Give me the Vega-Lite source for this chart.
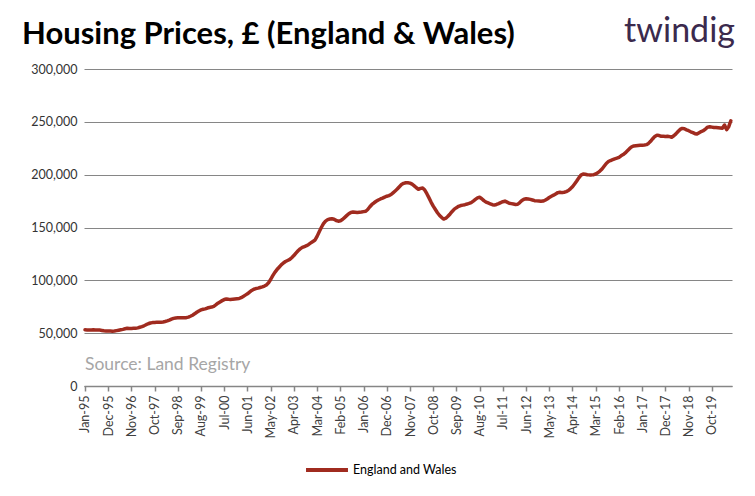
{
  "$schema": "https://vega.github.io/schema/vega-lite/v6.json",
  "width": 648,
  "height": 317,
  "autosize": "none",
  "padding": {"left": 84, "top": 69, "right": 23, "bottom": 110},
  "background": "white",
  "config": {"font": "Lato", "view": {"stroke": null}},
  "datasets": {
    "hpi": [
{"month":"1995-01-15","price":53200},{"month":"1995-02-15","price":53100},{"month":"1995-03-15","price":53000},{"month":"1995-04-15","price":53100},{"month":"1995-05-15","price":53200},{"month":"1995-06-15","price":53100},{"month":"1995-07-15","price":53000},{"month":"1995-08-15","price":52900},{"month":"1995-09-15","price":52600},{"month":"1995-10-15","price":52300},{"month":"1995-11-15","price":52100},{"month":"1995-12-15","price":52000},
{"month":"1996-01-15","price":52000},{"month":"1996-02-15","price":51900},{"month":"1996-03-15","price":52000},{"month":"1996-04-15","price":52400},{"month":"1996-05-15","price":52800},{"month":"1996-06-15","price":53200},{"month":"1996-07-15","price":53600},{"month":"1996-08-15","price":54200},{"month":"1996-09-15","price":54600},{"month":"1996-10-15","price":54400},{"month":"1996-11-15","price":54500},{"month":"1996-12-15","price":54600},
{"month":"1997-01-15","price":54700},{"month":"1997-02-15","price":55000},{"month":"1997-03-15","price":55600},{"month":"1997-04-15","price":56200},{"month":"1997-05-15","price":57000},{"month":"1997-06-15","price":58000},{"month":"1997-07-15","price":58900},{"month":"1997-08-15","price":59600},{"month":"1997-09-15","price":60000},{"month":"1997-10-15","price":60200},{"month":"1997-11-15","price":60300},{"month":"1997-12-15","price":60400},
{"month":"1998-01-15","price":60400},{"month":"1998-02-15","price":60600},{"month":"1998-03-15","price":61000},{"month":"1998-04-15","price":61600},{"month":"1998-05-15","price":62400},{"month":"1998-06-15","price":63300},{"month":"1998-07-15","price":64000},{"month":"1998-08-15","price":64400},{"month":"1998-09-15","price":64500},{"month":"1998-10-15","price":64500},{"month":"1998-11-15","price":64600},{"month":"1998-12-15","price":64500},
{"month":"1999-01-15","price":64700},{"month":"1999-02-15","price":65200},{"month":"1999-03-15","price":66000},{"month":"1999-04-15","price":67000},{"month":"1999-05-15","price":68300},{"month":"1999-06-15","price":69800},{"month":"1999-07-15","price":71000},{"month":"1999-08-15","price":72000},{"month":"1999-09-15","price":72600},{"month":"1999-10-15","price":73000},{"month":"1999-11-15","price":73800},{"month":"1999-12-15","price":74300},
{"month":"2000-01-15","price":74700},{"month":"2000-02-15","price":75400},{"month":"2000-03-15","price":76800},{"month":"2000-04-15","price":78400},{"month":"2000-05-15","price":79600},{"month":"2000-06-15","price":80800},{"month":"2000-07-15","price":81800},{"month":"2000-08-15","price":82300},{"month":"2000-09-15","price":82000},{"month":"2000-10-15","price":81800},{"month":"2000-11-15","price":82200},{"month":"2000-12-15","price":82400},
{"month":"2001-01-15","price":82600},{"month":"2001-02-15","price":82800},{"month":"2001-03-15","price":83600},{"month":"2001-04-15","price":84800},{"month":"2001-05-15","price":86000},{"month":"2001-06-15","price":87200},{"month":"2001-07-15","price":88800},{"month":"2001-08-15","price":90400},{"month":"2001-09-15","price":91600},{"month":"2001-10-15","price":92200},{"month":"2001-11-15","price":92600},{"month":"2001-12-15","price":93200},
{"month":"2002-01-15","price":93800},{"month":"2002-02-15","price":94600},{"month":"2002-03-15","price":95600},{"month":"2002-04-15","price":97600},{"month":"2002-05-15","price":100800},{"month":"2002-06-15","price":104400},{"month":"2002-07-15","price":107600},{"month":"2002-08-15","price":110200},{"month":"2002-09-15","price":112400},{"month":"2002-10-15","price":114600},{"month":"2002-11-15","price":116400},{"month":"2002-12-15","price":117800},
{"month":"2003-01-15","price":118800},{"month":"2003-02-15","price":119800},{"month":"2003-03-15","price":121400},{"month":"2003-04-15","price":123400},{"month":"2003-05-15","price":125800},{"month":"2003-06-15","price":128000},{"month":"2003-07-15","price":129800},{"month":"2003-08-15","price":131200},{"month":"2003-09-15","price":132000},{"month":"2003-10-15","price":132800},{"month":"2003-11-15","price":134000},{"month":"2003-12-15","price":135400},
{"month":"2004-01-15","price":136800},{"month":"2004-02-15","price":138200},{"month":"2004-03-15","price":141600},{"month":"2004-04-15","price":146000},{"month":"2004-05-15","price":150000},{"month":"2004-06-15","price":153600},{"month":"2004-07-15","price":156000},{"month":"2004-08-15","price":157400},{"month":"2004-09-15","price":158000},{"month":"2004-10-15","price":158300},{"month":"2004-11-15","price":157800},{"month":"2004-12-15","price":156600},
{"month":"2005-01-15","price":156000},{"month":"2005-02-15","price":156400},{"month":"2005-03-15","price":157600},{"month":"2005-04-15","price":159400},{"month":"2005-05-15","price":161200},{"month":"2005-06-15","price":163000},{"month":"2005-07-15","price":164200},{"month":"2005-08-15","price":164600},{"month":"2005-09-15","price":164400},{"month":"2005-10-15","price":164200},{"month":"2005-11-15","price":164400},{"month":"2005-12-15","price":164600},
{"month":"2006-01-15","price":165000},{"month":"2006-02-15","price":165400},{"month":"2006-03-15","price":167000},{"month":"2006-04-15","price":169600},{"month":"2006-05-15","price":171800},{"month":"2006-06-15","price":173400},{"month":"2006-07-15","price":174800},{"month":"2006-08-15","price":176000},{"month":"2006-09-15","price":177000},{"month":"2006-10-15","price":177800},{"month":"2006-11-15","price":178800},{"month":"2006-12-15","price":179600},
{"month":"2007-01-15","price":180200},{"month":"2007-02-15","price":181200},{"month":"2007-03-15","price":182800},{"month":"2007-04-15","price":184600},{"month":"2007-05-15","price":186400},{"month":"2007-06-15","price":188600},{"month":"2007-07-15","price":190600},{"month":"2007-08-15","price":191800},{"month":"2007-09-15","price":192400},{"month":"2007-10-15","price":192400},{"month":"2007-11-15","price":192000},{"month":"2007-12-15","price":191000},
{"month":"2008-01-15","price":189400},{"month":"2008-02-15","price":187600},{"month":"2008-03-15","price":186200},{"month":"2008-04-15","price":187000},{"month":"2008-05-15","price":187400},{"month":"2008-06-15","price":185400},{"month":"2008-07-15","price":182000},{"month":"2008-08-15","price":178000},{"month":"2008-09-15","price":173800},{"month":"2008-10-15","price":170200},{"month":"2008-11-15","price":167000},{"month":"2008-12-15","price":164000},
{"month":"2009-01-15","price":161400},{"month":"2009-02-15","price":159400},{"month":"2009-03-15","price":158000},{"month":"2009-04-15","price":158800},{"month":"2009-05-15","price":160600},{"month":"2009-06-15","price":162800},{"month":"2009-07-15","price":165200},{"month":"2009-08-15","price":167400},{"month":"2009-09-15","price":168800},{"month":"2009-10-15","price":170000},{"month":"2009-11-15","price":170800},{"month":"2009-12-15","price":171200},
{"month":"2010-01-15","price":171600},{"month":"2010-02-15","price":172200},{"month":"2010-03-15","price":172800},{"month":"2010-04-15","price":173600},{"month":"2010-05-15","price":175000},{"month":"2010-06-15","price":176600},{"month":"2010-07-15","price":178000},{"month":"2010-08-15","price":178600},{"month":"2010-09-15","price":177200},{"month":"2010-10-15","price":175400},{"month":"2010-11-15","price":174000},{"month":"2010-12-15","price":173200},
{"month":"2011-01-15","price":172400},{"month":"2011-02-15","price":171600},{"month":"2011-03-15","price":171200},{"month":"2011-04-15","price":171800},{"month":"2011-05-15","price":172600},{"month":"2011-06-15","price":173600},{"month":"2011-07-15","price":174400},{"month":"2011-08-15","price":175000},{"month":"2011-09-15","price":174000},{"month":"2011-10-15","price":173000},{"month":"2011-11-15","price":172600},{"month":"2011-12-15","price":172200},
{"month":"2012-01-15","price":171800},{"month":"2012-02-15","price":172000},{"month":"2012-03-15","price":173600},{"month":"2012-04-15","price":175600},{"month":"2012-05-15","price":176800},{"month":"2012-06-15","price":177200},{"month":"2012-07-15","price":177000},{"month":"2012-08-15","price":176600},{"month":"2012-09-15","price":176000},{"month":"2012-10-15","price":175400},{"month":"2012-11-15","price":175200},{"month":"2012-12-15","price":175000},
{"month":"2013-01-15","price":174800},{"month":"2013-02-15","price":175000},{"month":"2013-03-15","price":175800},{"month":"2013-04-15","price":177000},{"month":"2013-05-15","price":178400},{"month":"2013-06-15","price":179600},{"month":"2013-07-15","price":180600},{"month":"2013-08-15","price":181800},{"month":"2013-09-15","price":183000},{"month":"2013-10-15","price":183400},{"month":"2013-11-15","price":183000},{"month":"2013-12-15","price":183400},
{"month":"2014-01-15","price":184000},{"month":"2014-02-15","price":185000},{"month":"2014-03-15","price":186600},{"month":"2014-04-15","price":188600},{"month":"2014-05-15","price":191200},{"month":"2014-06-15","price":194000},{"month":"2014-07-15","price":197000},{"month":"2014-08-15","price":199600},{"month":"2014-09-15","price":200600},{"month":"2014-10-15","price":200400},{"month":"2014-11-15","price":200000},{"month":"2014-12-15","price":199800},
{"month":"2015-01-15","price":199800},{"month":"2015-02-15","price":200000},{"month":"2015-03-15","price":200600},{"month":"2015-04-15","price":201800},{"month":"2015-05-15","price":203400},{"month":"2015-06-15","price":205400},{"month":"2015-07-15","price":208000},{"month":"2015-08-15","price":210600},{"month":"2015-09-15","price":212400},{"month":"2015-10-15","price":213400},{"month":"2015-11-15","price":214200},{"month":"2015-12-15","price":215000},
{"month":"2016-01-15","price":215600},{"month":"2016-02-15","price":216400},{"month":"2016-03-15","price":217800},{"month":"2016-04-15","price":219000},{"month":"2016-05-15","price":220600},{"month":"2016-06-15","price":222600},{"month":"2016-07-15","price":224600},{"month":"2016-08-15","price":226400},{"month":"2016-09-15","price":227200},{"month":"2016-10-15","price":227400},{"month":"2016-11-15","price":227600},{"month":"2016-12-15","price":227800},
{"month":"2017-01-15","price":227800},{"month":"2017-02-15","price":228000},{"month":"2017-03-15","price":228400},{"month":"2017-04-15","price":229600},{"month":"2017-05-15","price":231600},{"month":"2017-06-15","price":234000},{"month":"2017-07-15","price":236200},{"month":"2017-08-15","price":237400},{"month":"2017-09-15","price":237000},{"month":"2017-10-15","price":236400},{"month":"2017-11-15","price":236400},{"month":"2017-12-15","price":236200},
{"month":"2018-01-15","price":236400},{"month":"2018-02-15","price":236000},{"month":"2018-03-15","price":235400},{"month":"2018-04-15","price":236800},{"month":"2018-05-15","price":238600},{"month":"2018-06-15","price":240800},{"month":"2018-07-15","price":242800},{"month":"2018-08-15","price":243800},{"month":"2018-09-15","price":243400},{"month":"2018-10-15","price":242400},{"month":"2018-11-15","price":241600},{"month":"2018-12-15","price":240600},
{"month":"2019-01-15","price":239800},{"month":"2019-02-15","price":238800},{"month":"2019-03-15","price":238400},{"month":"2019-04-15","price":239600},{"month":"2019-05-15","price":240800},{"month":"2019-06-15","price":241600},{"month":"2019-07-15","price":243200},{"month":"2019-08-15","price":245000},{"month":"2019-09-15","price":245400},{"month":"2019-10-15","price":245000},{"month":"2019-11-15","price":244600},{"month":"2019-12-15","price":244600},
{"month":"2020-01-15","price":244400},{"month":"2020-02-15","price":244200},{"month":"2020-03-15","price":244000},{"month":"2020-04-15","price":247000},{"month":"2020-05-15","price":242600},{"month":"2020-06-15","price":245400},{"month":"2020-07-15","price":251000}
    ],
    "notes": [
      {"label": "Source: Land Registry", "month": "1995-01-01", "price": 15000},
      {"label": "twindig", "month": "2020-08-01", "price": 326000},
      {"label": "Housing Prices, £ (England & Wales)", "month": "1995-01-01", "price": 323700}
    ]
  },
  "encoding": {
    "x": {
      "field": "month",
      "type": "temporal",
      "scale": {"domain": ["1995-01-01", "2020-08-01"], "nice": false},
      "axis": {
        "title": null,
        "format": "%b-%y",
        "labelAngle": 270,
        "labelAlign": "right",
        "labelBaseline": "middle",
        "labelFont": "Lato",
        "labelFontSize": 12.5,
        "labelColor": "#404040",
        "labelPadding": 4,
        "labelOverlap": false,
        "labelFlush": false,
        "domainColor": "#868686",
        "domainWidth": 1.5,
        "tickColor": "#868686",
        "tickWidth": 1.5,
        "tickSize": 5,
        "grid": false,
        "values": [
          {"year": 1995, "month": 1, "date": 15},
          {"year": 1995, "month": 12, "date": 15},
          {"year": 1996, "month": 11, "date": 15},
          {"year": 1997, "month": 10, "date": 15},
          {"year": 1998, "month": 9, "date": 15},
          {"year": 1999, "month": 8, "date": 15},
          {"year": 2000, "month": 7, "date": 15},
          {"year": 2001, "month": 6, "date": 15},
          {"year": 2002, "month": 5, "date": 15},
          {"year": 2003, "month": 4, "date": 15},
          {"year": 2004, "month": 3, "date": 15},
          {"year": 2005, "month": 2, "date": 15},
          {"year": 2006, "month": 1, "date": 15},
          {"year": 2006, "month": 12, "date": 15},
          {"year": 2007, "month": 11, "date": 15},
          {"year": 2008, "month": 10, "date": 15},
          {"year": 2009, "month": 9, "date": 15},
          {"year": 2010, "month": 8, "date": 15},
          {"year": 2011, "month": 7, "date": 15},
          {"year": 2012, "month": 6, "date": 15},
          {"year": 2013, "month": 5, "date": 15},
          {"year": 2014, "month": 4, "date": 15},
          {"year": 2015, "month": 3, "date": 15},
          {"year": 2016, "month": 2, "date": 15},
          {"year": 2017, "month": 1, "date": 15},
          {"year": 2017, "month": 12, "date": 15},
          {"year": 2018, "month": 11, "date": 15},
          {"year": 2019, "month": 10, "date": 15}
        ]
      }
    },
    "y": {
      "field": "price",
      "type": "quantitative",
      "scale": {"domain": [0, 300000], "nice": false},
      "axis": {
        "title": null,
        "values": [0, 50000, 100000, 150000, 200000, 250000, 300000],
        "format": ",.0f",
        "labelFont": "Lato",
        "labelFontSize": 12.5,
        "labelColor": "#333333",
        "labelPadding": 7,
        "domain": false,
        "ticks": false,
        "grid": true,
        "gridColor": "#868686",
        "gridWidth": 1
      }
    }
  },
  "layer": [
    {
      "data": {"name": "hpi"},
      "transform": [{"calculate": "'England and Wales'", "as": "series"}],
      "mark": {"type": "line", "strokeWidth": 3.5, "strokeJoin": "round", "strokeCap": "round"},
      "encoding": {
        "color": {
          "field": "series",
          "type": "nominal",
          "scale": {"range": ["#A02B1F"]},
          "legend": {
            "title": null,
            "orient": "none",
            "legendX": 220,
            "legendY": 378,
            "symbolType": "stroke",
            "symbolSize": 1760,
            "symbolStrokeWidth": 4,
            "labelFont": "Lato",
            "labelFontSize": 12.5,
            "labelColor": "#000000",
            "labelOffset": 3
          }
        }
      }
    },
    {
      "data": {"name": "notes"},
      "transform": [{"filter": "datum.label === 'Source: Land Registry'"}],
      "mark": {"type": "text", "align": "left", "baseline": "alphabetic", "dx": 1, "font": "Lato", "fontSize": 17.5, "color": "#A6A6A6"},
      "encoding": {"text": {"field": "label"}}
    },
    {
      "data": {"name": "notes"},
      "transform": [{"filter": "datum.label === 'twindig'"}],
      "mark": {"type": "text", "align": "right", "baseline": "alphabetic", "dx": 3, "font": "Lato", "fontSize": 34, "color": "#3B2A4D"},
      "encoding": {"text": {"field": "label"}}
    },
    {
      "data": {"name": "notes"},
      "transform": [{"filter": "datum.label === 'Housing Prices, £ (England & Wales)'"}],
      "mark": {"type": "text", "align": "left", "baseline": "alphabetic", "dx": -62, "font": "Lato", "fontSize": 31, "fontWeight": "bold", "color": "#000000"},
      "encoding": {"text": {"field": "label"}}
    }
  ]
}
